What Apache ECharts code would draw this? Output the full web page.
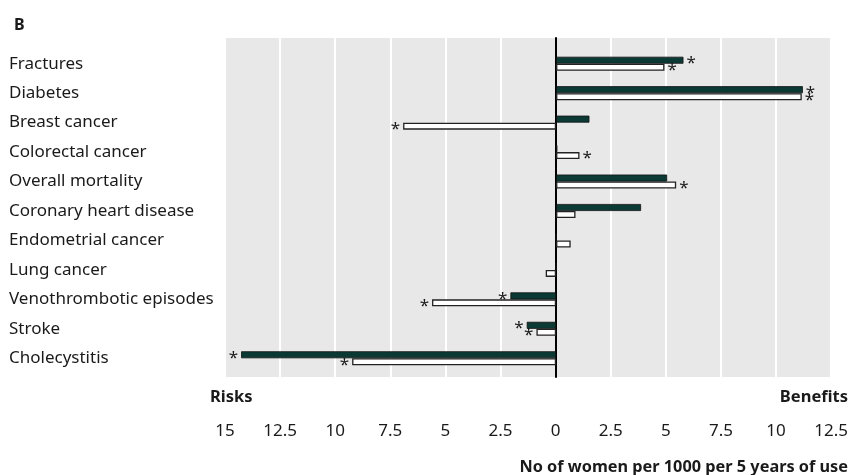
<!DOCTYPE html>
<html><head><meta charset="utf-8">
<script src="https://cdn.jsdelivr.net/npm/echarts@6/dist/echarts.min.js"></script>
<style>html,body{margin:0;padding:0;background:#fff}#c{width:851px;height:475px}</style>
</head><body><div id="c"></div>
<script>
const categories = ['Fractures','Diabetes','Breast cancer','Colorectal cancer','Overall mortality','Coronary heart disease','Endometrial cancer','Lung cancer','Venothrombotic episodes','Stroke','Cholecystitis'];
const darkValues  = [5.77, 11.18, 1.51, 0.06, 5.03, 3.85, 0, 0, -2.07, -1.33, -14.27];
const whiteValues = [4.91, 11.13, -6.93, 1.06, 5.44, 0.88, 0.66, -0.47, -5.62, -0.89, -9.24];
const darkSig  = [1,1,0,0,0,0,0,0,1,1,1];
const whiteSig = [1,1,1,1,1,0,0,0,1,1,1];
const xMin = -15, xMax = 12.5, xStep = 2.5;

const FONT = 'Noto Sans';
const TXT = '#1a1a1a';
const DARK = '#0b3a35';

function items(vals, sig) {
  return vals.map((v, i) => ({
    value: v,
    label: {
      show: !!sig[i],
      formatter: '*',
      position: v >= 0 ? 'right' : 'left',
      distance: 3,
      fontSize: 17,
      color: TXT,
      fontFamily: FONT,
      offset: [0, 3]
    }
  }));
}

const chart = echarts.init(document.getElementById('c'));
chart.setOption({
  animation: false,
  title: { text: 'B', left: 9, top: 12, textStyle: { fontFamily: FONT, fontWeight: 'bold', fontSize: 16, color: TXT } },
  grid: [
    { left: 225, right: 19, top: 38, bottom: 98, show: true, backgroundColor: '#e8e8e8', borderWidth: 0 },
    { left: 225, right: 19, top: 49, bottom: 102 }
  ],
  xAxis: [
    { gridIndex: 0, type: 'value', min: xMin, max: xMax, interval: xStep,
      axisLine: { show: false }, axisTick: { show: false },
      splitLine: { show: true, lineStyle: { color: '#ffffff', width: 2 } },
      axisLabel: { show: true, margin: 46, fontFamily: FONT, fontSize: 17, color: TXT,
        formatter: v => String(Math.abs(v)) } },
    { gridIndex: 1, type: 'value', min: xMin, max: xMax, interval: xStep,
      axisLine: { show: false }, axisTick: { show: false }, splitLine: { show: false }, axisLabel: { show: false } }
  ],
  yAxis: [
    { gridIndex: 0, type: 'value', min: 0, max: 1,
      axisLine: { show: true, onZero: true, lineStyle: { color: '#000', width: 2 } },
      axisTick: { show: false }, axisLabel: { show: false }, splitLine: { show: false } },
    { gridIndex: 1, type: 'category', data: categories, inverse: true,
      axisLine: { show: false }, axisTick: { show: false },
      axisLabel: { align: 'left', margin: 216, fontFamily: FONT, fontSize: 17, color: TXT } }
  ],
  series: [
    { type: 'bar', xAxisIndex: 1, yAxisIndex: 1, data: items(darkValues, darkSig),
      barWidth: 7, barGap: '0%', itemStyle: { color: DARK, borderColor: '#111', borderWidth: 0.8 } },
    { type: 'bar', xAxisIndex: 1, yAxisIndex: 1, data: items(whiteValues, whiteSig),
      barWidth: 7, barGap: '0%', itemStyle: { color: '#ffffff', borderColor: '#222', borderWidth: 1.3 } }
  ],
  graphic: [
    { type: 'text', left: 210, top: 389, style: { text: 'Risks', fontFamily: FONT, fontWeight: 'bold', fontSize: 16.5, fill: TXT } },
    { type: 'text', right: 3, top: 389, style: { text: 'Benefits', fontFamily: FONT, fontWeight: 'bold', fontSize: 16.5, fill: TXT } },
    { type: 'text', right: 3, top: 459, style: { text: 'No of women per 1000 per 5 years of use', fontFamily: FONT, fontWeight: 'bold', fontSize: 16.3, fill: TXT } }
  ]
});
</script></body></html>
